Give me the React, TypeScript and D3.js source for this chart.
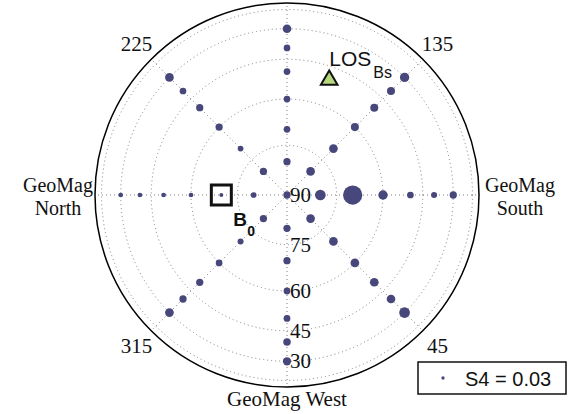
import React from "react";
import * as d3 from "d3";

// Sky-plot geometry
const WIDTH = 571;
const HEIGHT = 414;
const CX = 287;
const CY = 195;
const R = 192;

// Azimuths (deg) of the sampled look directions, counter-clockwise from GeoMag West
const azimuths = [0, 45, 90, 135, 180, 225, 270, 315];
// Elevations (deg) sampled along each azimuth
const elevations = [30, 40, 50, 60, 70, 80];
// S4 scintillation index per azimuth (rows) and elevation (columns)
const s4Values: number[][] = [
  [0.075, 0.068, 0.062, 0.062, 0.066, 0.066], // 0
  [0.097, 0.079, 0.079, 0.079, 0.079, 0.079], // 45
  [0.066, 0.055, 0.061, 0.085, 0.175, 0.097], // 90
  [0.085, 0.073, 0.073, 0.073, 0.079, 0.079], // 135
  [0.079, 0.061, 0.061, 0.061, 0.061, 0.066], // 180
  [0.079, 0.061, 0.066, 0.066, 0.052, 0.066], // 225
  [0.043, 0.043, 0.043, 0.043, 0.036, 0.052], // 270
  [0.079, 0.066, 0.066, 0.061, 0.055, 0.066], // 315
];
const zenithS4 = 0.066;
const legendS4 = 0.03;

// Grid and labels
const gridElevations = [15, 30, 45, 60, 75];
const elevationTickLabels = [90, 75, 60, 45, 30];
const spokeAzimuths = [0, 45, 90, 135, 180, 225, 270, 315];
const diagonalLabels = [
  { az: 45, text: "45" },
  { az: 135, text: "135" },
  { az: 225, text: "225" },
  { az: 315, text: "315" },
];

// Reference directions
const bField = { az: 270, el: 70 };
const losBs = { az: 160, el: 50 };

const DOT_COLOR = "#47477b";
const SERIF = "'Liberation Serif', 'Times New Roman', serif";
const SANS = "'Liberation Sans', Arial, sans-serif";

// radial distance proportional to cos(elevation)
const rScale = d3.scaleLinear().domain([0, 1]).range([0, R]);
const radius = (el: number) => rScale(Math.cos((el * Math.PI) / 180));
// marker diameter proportional to S4
const sizeScale = d3.scaleLinear().domain([0, 0.1]).range([0, 5.5]);

function project(az: number, el: number): [number, number] {
  const r = radius(el);
  const a = (az * Math.PI) / 180;
  return [CX + r * Math.sin(a), CY + r * Math.cos(a)];
}

export default function App() {
  const points: { x: number; y: number; s4: number }[] = [];
  azimuths.forEach((az, i) => {
    elevations.forEach((el, j) => {
      const [x, y] = project(az, el);
      points.push({ x, y, s4: s4Values[i][j] });
    });
  });
  points.push({ x: CX, y: CY, s4: zenithS4 });

  const [bx, by] = project(bField.az, bField.el);
  const [lx, ly] = project(losBs.az, losBs.el);
  const tri = d3.symbol().type(d3.symbolTriangle).size(120)();

  const dotted = { stroke: "#808080", strokeWidth: 1, strokeDasharray: "1 3", fill: "none" };

  return (
    <svg
      width={WIDTH}
      height={HEIGHT}
      style={{ position: "absolute", left: 0, top: 0, background: "#fff" }}
    >
      {/* grid */}
      {gridElevations.map((el) => (
        <circle key={el} cx={CX} cy={CY} r={radius(el)} {...dotted} />
      ))}
      {spokeAzimuths.map((az) => {
        const [x, y] = project(az, 0);
        return <line key={az} x1={CX} y1={CY} x2={x} y2={y} {...dotted} />;
      })}
      <circle cx={CX} cy={CY} r={R} fill="none" stroke="#000" strokeWidth={1.5} />

      {/* S4 markers */}
      {points.map((p, i) => (
        <circle key={i} cx={p.x} cy={p.y} r={sizeScale(p.s4)} fill={DOT_COLOR} />
      ))}

      {/* elevation labels */}
      {elevationTickLabels.map((el) => (
        <text
          key={el}
          x={CX + 3}
          y={CY + radius(el)}
          dy="0.33em"
          fontFamily={SERIF}
          fontSize={21}
          fill="#111"
        >
          {el}
        </text>
      ))}

      {/* azimuth labels */}
      {diagonalLabels.map((d) => {
        const a = (d.az * Math.PI) / 180;
        const rr = R + 21;
        return (
          <text
            key={d.text}
            x={CX + rr * Math.sin(a)}
            y={CY + rr * Math.cos(a)}
            dy="0.33em"
            textAnchor="middle"
            fontFamily={SERIF}
            fontSize={21}
            fill="#111"
          >
            {d.text}
          </text>
        );
      })}
      <text x={CX - R - 37} y={CY - 3} textAnchor="middle" fontFamily={SERIF} fontSize={20} fill="#111">
        GeoMag
      </text>
      <text x={CX - R - 37} y={CY + 20} textAnchor="middle" fontFamily={SERIF} fontSize={20} fill="#111">
        North
      </text>
      <text x={CX + R + 41} y={CY - 3} textAnchor="middle" fontFamily={SERIF} fontSize={20} fill="#111">
        GeoMag
      </text>
      <text x={CX + R + 41} y={CY + 20} textAnchor="middle" fontFamily={SERIF} fontSize={20} fill="#111">
        South
      </text>
      <text x={CX} y={CY + R + 19} textAnchor="middle" fontFamily={SERIF} fontSize={21} fill="#111">
        GeoMag West
      </text>

      {/* magnetic field direction */}
      <rect x={bx - 10} y={by - 10} width={20} height={20} fill="none" stroke="#111" strokeWidth={3} />
      <text x={bx + 12} y={by + 31} fontFamily={SANS} fontWeight="bold" fontSize={19} fill="#111">
        B
      </text>
      <text x={bx + 26} y={by + 41} fontFamily={SANS} fontWeight="bold" fontSize={14} fill="#111">
        0
      </text>

      {/* line of sight */}
      <path d={tri ?? ""} transform={`translate(${lx},${ly + 1})`} fill="#b7d77e" stroke="#111" strokeWidth={2} />
      <text x={lx} y={ly - 13} fontFamily={SANS} fontSize={21} fill="#111">
        LOS
      </text>
      <text x={lx + 44} y={ly - 1} fontFamily={SANS} fontSize={16} fill="#111">
        Bs
      </text>

      {/* legend */}
      <rect x={418} y={362} width={148} height={32} fill="#fff" stroke="#111" strokeWidth={1.5} />
      <circle cx={443} cy={378} r={sizeScale(legendS4)} fill={DOT_COLOR} />
      <text x={465} y={386} fontFamily={SANS} fontSize={20} fill="#111">
        S4 = 0.03
      </text>
    </svg>
  );
}
